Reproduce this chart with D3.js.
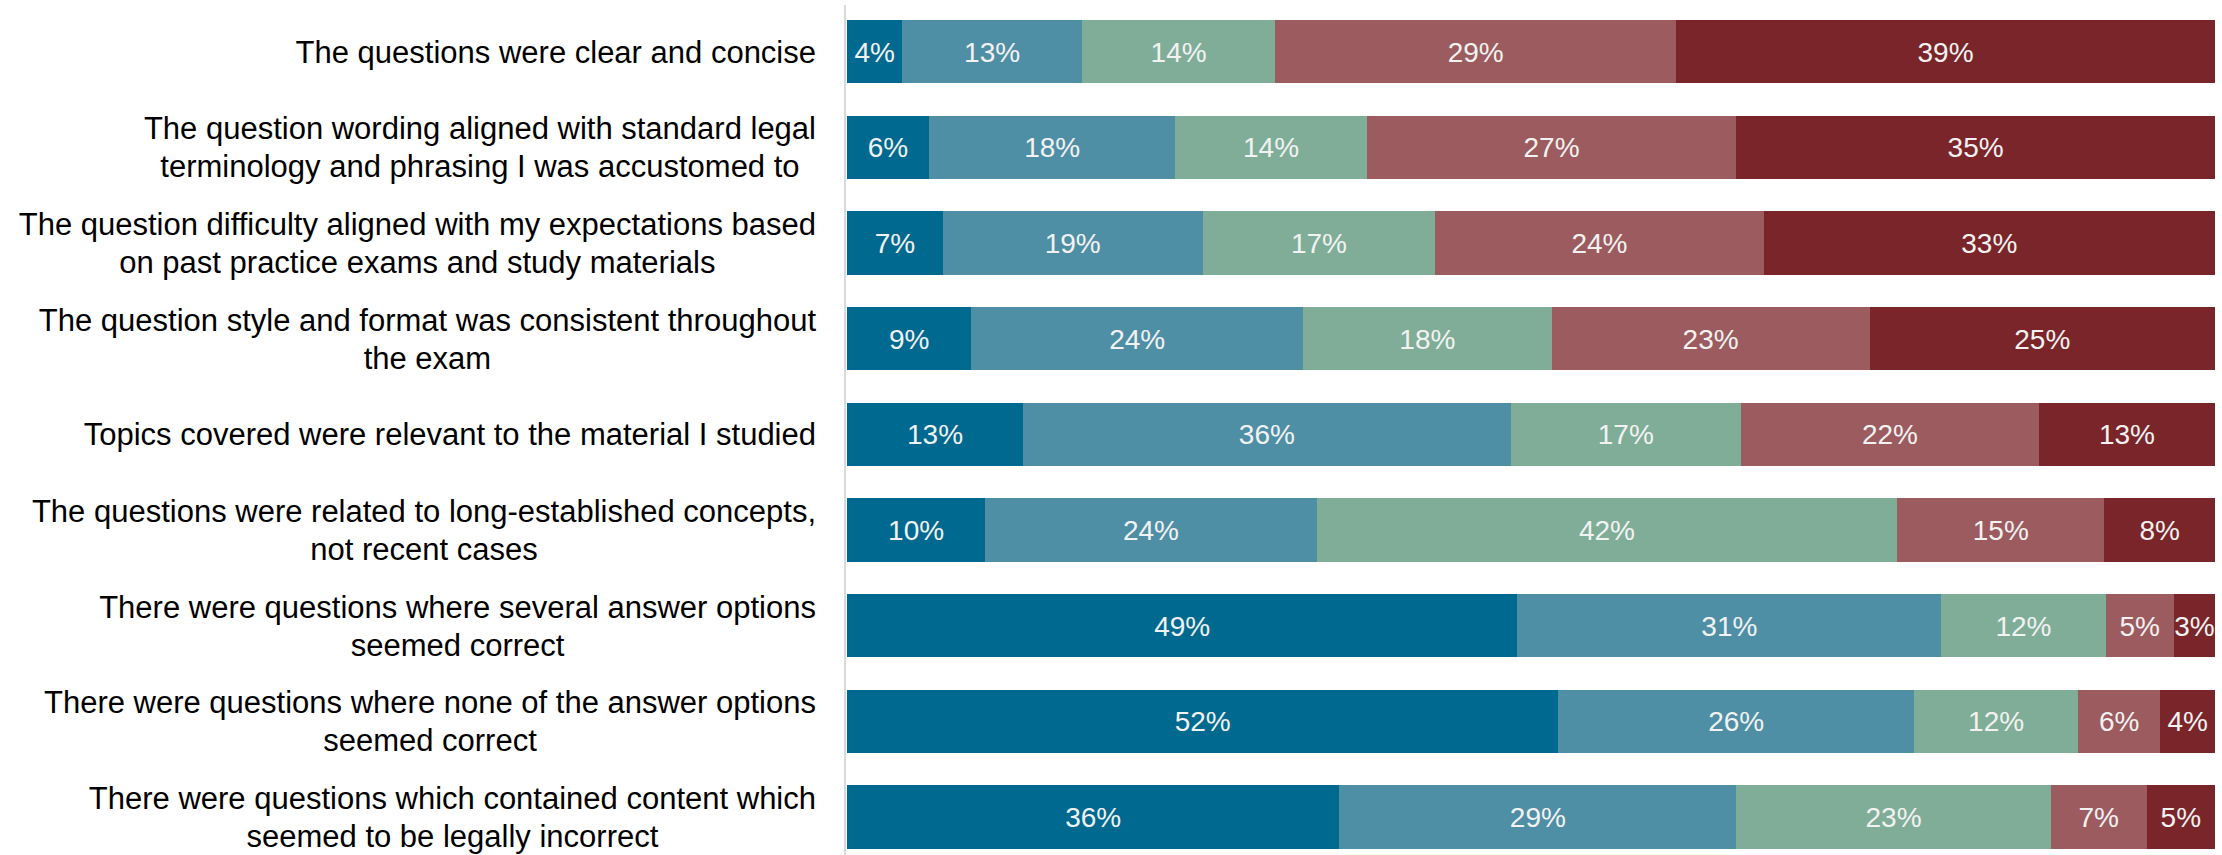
<!DOCTYPE html>
<html>
<head>
<meta charset="utf-8">
<script src="https://cdn.jsdelivr.net/npm/d3@7"></script>
<style>
  html, body { margin: 0; padding: 0; background: #ffffff; }
  svg { display: block; }
</style>
</head>
<body>
<svg id="chart" width="2222" height="855"></svg>
<script>
// Survey statements (top to bottom), each split into its display lines
const statements = [
  ["The questions were clear and concise"],
  ["The question wording aligned with standard legal", "terminology and phrasing I was accustomed to"],
  ["The question difficulty aligned with my expectations based", "on past practice exams and study materials"],
  ["The question style and format was consistent throughout", "the exam"],
  ["Topics covered were relevant to the material I studied"],
  ["The questions were related to long-established concepts,", "not recent cases"],
  ["There were questions where several answer options", "seemed correct"],
  ["There were questions where none of the answer options", "seemed correct"],
  ["There were questions which contained content which", "seemed to be legally incorrect"]
];

// Response levels, from strongly negative to strongly positive
const levels = ["r1", "r2", "r3", "r4", "r5"];
const levelColors = ["#00698f", "#4f8fa6", "#7fad98", "#9c5b5e", "#7a2529"];

// Percentage of respondents per level, one array per level, in statement order
const r1 = [4, 6, 7, 9, 13, 10, 49, 52, 36];
const r2 = [13, 18, 19, 24, 36, 24, 31, 26, 29];
const r3 = [14, 14, 17, 18, 17, 42, 12, 12, 23];
const r4 = [29, 27, 24, 23, 22, 15, 5, 6, 7];
const r5 = [39, 35, 33, 25, 13, 8, 3, 4, 5];

const rows = statements.map((s, i) => ({
  key: i, r1: r1[i], r2: r2[i], r3: r3[i], r4: r4[i], r5: r5[i]
}));

const svg = d3.select("#chart");

const x = d3.scaleLinear().domain([0, 1]).range([847, 2215]);
const y = d3.scaleBand()
  .domain(rows.map(d => d.key))
  .range([3.9, 864.9])
  .paddingInner(0.336)
  .paddingOuter(0.168);
const color = d3.scaleOrdinal().domain(levels).range(levelColors);

// 100% stacked layout
const series = d3.stack().keys(levels).offset(d3.stackOffsetExpand)(rows);

const layer = svg.append("g")
  .selectAll("g")
  .data(series)
  .join("g")
  .attr("fill", d => color(d.key));

layer.selectAll("rect")
  .data(d => d.map(v => Object.assign(v, { level: d.key })))
  .join("rect")
  .attr("x", d => x(d[0]))
  .attr("y", d => y(d.data.key))
  .attr("width", d => x(d[1]) - x(d[0]))
  .attr("height", y.bandwidth())
  .attr("shape-rendering", "crispEdges");

// Value labels centred in each segment
layer.selectAll("text")
  .data(d => d)
  .join("text")
  .attr("x", d => (x(d[0]) + x(d[1])) / 2)
  .attr("y", d => y(d.data.key) + y.bandwidth() / 2)
  .attr("dy", "0.36em")
  .attr("text-anchor", "middle")
  .attr("fill", "#f2f2f2")
  .style("font-family", "'Liberation Sans', Arial, sans-serif")
  .style("font-size", "28px")
  .text(d => d.data[d.level] + "%");

// Vertical category axis line
svg.append("line")
  .attr("x1", 845).attr("x2", 845)
  .attr("y1", 5).attr("y2", 855)
  .attr("stroke", "#d9d9d9")
  .attr("stroke-width", 2);

// Category labels: block right-aligned to the axis, lines centred within the block
const labelRight = 816;
const lineGap = 38;
const labels = svg.append("g")
  .style("font-family", "'Liberation Sans Narrow', 'Arial Narrow', 'Liberation Sans', sans-serif")
  .style("font-size", "31px")
  .attr("fill", "#000000");

rows.forEach((d, i) => {
  const lines = statements[i];
  const g = labels.append("g");
  const cy = y(d.key) + y.bandwidth() / 2;
  const texts = lines.map((t, k) => g.append("text")
    .attr("y", cy + (k - (lines.length - 1) / 2) * lineGap)
    .attr("dy", "0.35em")
    .attr("text-anchor", "middle")
    .text(t));
  const w = d3.max(texts, t => t.node().getComputedTextLength());
  texts.forEach(t => t.attr("x", labelRight - w / 2));
});
</script>
</body>
</html>
